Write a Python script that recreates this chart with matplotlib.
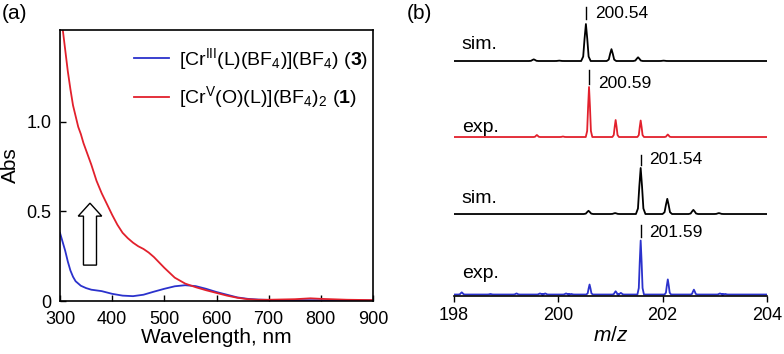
import numpy as np
import matplotlib
matplotlib.use("Agg")
import matplotlib.pyplot as plt

plt.rcParams['font.family'] = ['Liberation Sans', 'DejaVu Sans']
plt.rcParams['mathtext.fontset'] = 'custom'
plt.rcParams['mathtext.rm'] = 'Liberation Sans'
plt.rcParams['mathtext.it'] = 'Liberation Sans:italic'
plt.rcParams['mathtext.bf'] = 'Liberation Sans:bold'

# (a) UV-vis spectra
wl_red = [300, 305, 310, 315, 320, 325, 330, 335, 340, 345, 350, 355, 360, 365, 370, 375,
          380, 390, 400, 410, 420, 430, 440, 450, 460, 470, 480, 500, 520, 540, 560, 580,
          600, 620, 640, 660, 680, 700, 750, 780, 800, 850, 900]
abs_red = [1.62, 1.52, 1.40, 1.28, 1.18, 1.09, 1.03, 0.97, 0.93, 0.88, 0.84, 0.80, 0.76,
           0.715, 0.67, 0.635, 0.60, 0.54, 0.48, 0.425, 0.38, 0.35, 0.325, 0.305, 0.29,
           0.27, 0.245, 0.185, 0.13, 0.097, 0.077, 0.06, 0.045, 0.03, 0.018, 0.01,
           0.007, 0.007, 0.01, 0.015, 0.012, 0.007, 0.005]
wl_blue = [300, 305, 310, 315, 320, 325, 330, 340, 350, 360, 370, 380, 400, 420, 440, 460,
           480, 500, 520, 540, 560, 580, 600, 620, 640, 660, 680, 700, 800, 900]
abs_blue = [0.38, 0.33, 0.28, 0.22, 0.17, 0.135, 0.11, 0.085, 0.072, 0.063, 0.059, 0.055,
            0.04, 0.03, 0.027, 0.035, 0.052, 0.068, 0.082, 0.088, 0.083, 0.068, 0.05,
            0.035, 0.02, 0.012, 0.008, 0.006, 0.004, 0.003]
label_blue = r'[Cr$^{\mathrm{III}}$(L)(BF$_4$)](BF$_4$) ($\mathbf{3}$)'
label_red = r'[Cr$^{\mathrm{V}}$(O)(L)](BF$_4$)$_2$ ($\mathbf{1}$)'

# (b) ESI-MS isotope patterns: peak centres (m/z) and relative heights
sim1_mz = [199.53, 200.02, 200.53, 201.02, 201.53, 202.02]
sim1_int = [0.045, 0.01, 1.0, 0.32, 0.10, 0.01]
exp1_mz = [199.59, 200.09, 200.59, 201.10, 201.58, 202.10]
exp1_int = [0.04, 0.01, 1.0, 0.34, 0.33, 0.05]
sim2_mz = [200.58, 201.09, 201.58, 202.09, 202.59, 203.08]
sim2_int = [0.07, 0.02, 1.0, 0.33, 0.09, 0.02]
exp2_mz = [198.15, 198.7, 199.2, 199.65, 199.75, 200.15, 200.25, 200.6, 201.1, 201.2,
           201.58, 202.1, 202.6, 203.1, 203.2]
exp2_int = [0.04, 0.01, 0.02, 0.02, 0.02, 0.02, 0.01, 0.185, 0.06, 0.03,
            1.0, 0.28, 0.09, 0.02, 0.01]
peak_labels = ['200.54', '200.59', '201.54', '201.59']
trace_names = ['sim.', 'exp.', 'sim.', 'exp.']

# line shape template read from the main peaks (offset in m/z, fraction of height)
shape_dx = [-0.07, -0.04, -0.02, 0.0, 0.02, 0.04, 0.07]
shape_y = [0.0, 0.12, 0.6, 1.0, 0.6, 0.12, 0.0]


def trace(centres, heights, width):
    x = [198.0]
    y = [0.0]
    for c, h in zip(centres, heights):
        for dx, f in zip(shape_dx, shape_y):
            x.append(c + dx * width)
            y.append(h * f)
    x.append(204.0)
    y.append(0.0)
    return np.array(x), np.array(y)


fig = plt.figure(figsize=(7.84, 3.54), dpi=100)

ax = fig.add_axes([0.0765, 0.1497, 0.3993, 0.7656])
ax.plot(wl_blue, abs_blue, color='#2b32cc', lw=1.3, label=label_blue)
ax.plot(wl_red, abs_red, color='#e2202c', lw=1.3, label=label_red)
ax.arrow(357.5, 0.2, 0, 0.345, width=25, head_width=45, head_length=0.072,
         length_includes_head=True, fc='white', ec='black', lw=1.0)
ax.set_xlim(300, 900)
ax.set_ylim(0, 1.51)
ax.set_xticks([300, 400, 500, 600, 700, 800, 900])
ax.set_yticks([0, 0.5, 1.0])
ax.set_yticklabels(['0', '0.5', '1.0'])
ax.tick_params(direction='in', length=4, width=1, labelsize=13)
ax.tick_params(axis='x', pad=7)
ax.tick_params(axis='y', pad=6)
for s in ax.spines.values():
    s.set_linewidth(1.2)
ax.set_xlabel('Wavelength, nm', fontsize=15, labelpad=0)
ax.set_ylabel('Abs', fontsize=15, labelpad=5)
ax.legend(loc='upper right', frameon=False, fontsize=14, handlelength=1.8,
          handletextpad=0.5, labelspacing=0.65, borderaxespad=0.0,
          bbox_to_anchor=(1.01, 0.97))
fig.text(0.002, 0.99, '(a)', fontsize=15, va='top')

# (b) panel, y in pixels above the axis line
bx = fig.add_axes([0.579, 0.1638, 0.3992, 0.8362])
bx.set_xlim(198, 204)
bx.set_ylim(0, 296)
offsets = [235, 159, 82, 1.5]
scales = [37, 50, 46, 54]
widths = [1.3, 0.9, 1.3, 0.9]
colors = ['black', '#e2202c', 'black', '#2b32cc']
data = [(sim1_mz, sim1_int), (exp1_mz, exp1_int), (sim2_mz, sim2_int), (exp2_mz, exp2_int)]
main_mz = [200.53, 200.59, 201.58, 201.58]
mark_y = [(277, 289), (212, 226), (131, 141), (59, 71)]
label_base = [278, 208, 132, 59]
name_base = [247, 164, 93, 18]
for i, (mz, it) in enumerate(data):
    x, y = trace(mz, it, widths[i])
    bx.plot(x, offsets[i] + scales[i] * y, color=colors[i], lw=1.3)
    bx.plot([main_mz[i], main_mz[i]], mark_y[i], color='black', lw=1.0)
    bx.text(main_mz[i] + 0.17, label_base[i], peak_labels[i], fontsize=12.5, va='baseline')
    bx.text(198.15, name_base[i], trace_names[i], fontsize=14, va='baseline')
for s in ['top', 'left', 'right']:
    bx.spines[s].set_visible(False)
bx.spines['bottom'].set_linewidth(1.2)
bx.set_yticks([])
bx.set_xticks([198, 200, 202, 204])
bx.tick_params(axis='x', direction='out', length=4, width=1, labelsize=13, pad=4)
bx.set_xlabel(r'$m/z$', fontsize=15, labelpad=1)
fig.text(0.519, 0.99, '(b)', fontsize=15, va='top')

fig.savefig('out.png', dpi=100)
